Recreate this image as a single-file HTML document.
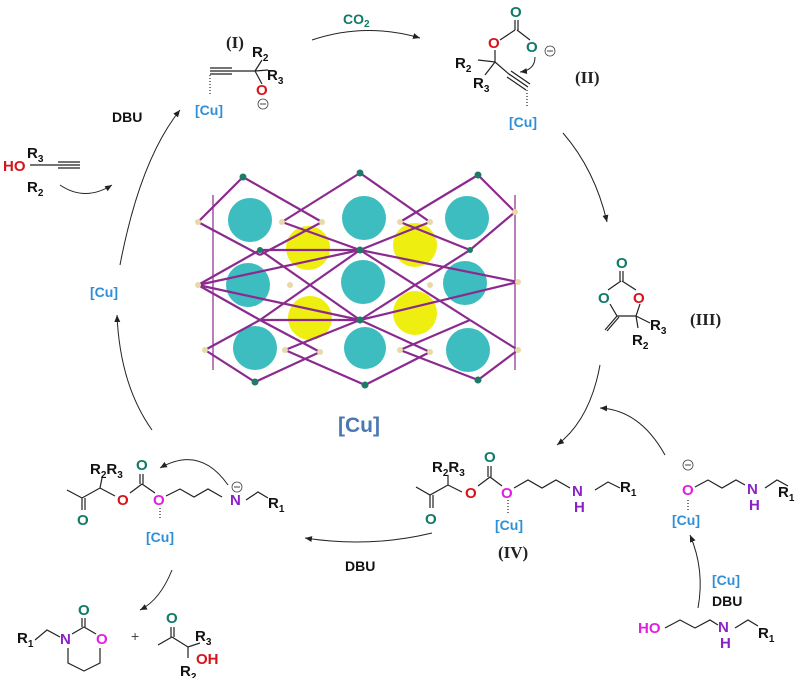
<!DOCTYPE html>
<html><head><meta charset="utf-8"><style>
html,body{margin:0;padding:0;background:#fff;}
svg{display:block;font-family:"Liberation Sans",sans-serif;}
.t{font-size:15px;fill:#111;}
.s{font-size:10px;}
.ser{font-family:"Liberation Serif",serif;font-weight:bold;font-size:17px;fill:#222;}
.cu{fill:#2f8fd6;font-size:14px;font-weight:bold;}
.ot{fill:#0f7a66;font-size:15px;font-weight:bold;}
.or{fill:#d8121b;font-size:15px;font-weight:bold;}
.om{fill:#e01fe0;font-size:15px;font-weight:bold;}
.np{fill:#8a22c8;font-size:15px;font-weight:bold;}
.dbu{font-size:14px;font-weight:bold;fill:#111;}
.b{stroke:#222;stroke-width:1.2;fill:none;}
.a{stroke:#222;stroke-width:1;fill:none;marker-end:url(#ah);}
.m{stroke:#8b2a8e;stroke-width:2.2;}
.neg{fill:none;stroke:#444;stroke-width:0.8;}
</style></head><body>
<svg width="799" height="678" viewBox="0 0 799 678">
<defs><marker id="ah" markerWidth="8" markerHeight="8" refX="7" refY="4" orient="auto" markerUnits="userSpaceOnUse"><path d="M0,1 L7,4 L0,7 Z" fill="#222"/></marker></defs>

<!-- cycle arrows -->
<path class="a" d="M312,40 Q365,22 420,38"/>
<path class="a" d="M563,133 Q595,170 607,222"/>
<path class="a" d="M600,365 Q590,420 557,445"/>
<path class="a" d="M432,533 Q370,548 305,538"/>
<path class="a" d="M152,430 Q120,385 117,315"/>
<path class="a" d="M120,265 Q140,160 180,110"/>
<path class="a" d="M60,185 Q85,202 112,185"/>
<path class="a" d="M665,455 Q640,410 600,408"/>
<path class="a" d="M698,608 Q705,570 690,535"/>
<path class="a" d="M172,570 Q160,600 140,610"/>
<path class="a" d="M228,485 Q200,445 160,468"/>

<text x="343" y="24" style="fill:#0f7a66;font-size:14px;font-weight:bold">CO<tspan class="s" dy="3">2</tspan></text>
<text x="112" y="122" class="dbu">DBU</text>
<text x="345" y="571" class="dbu">DBU</text>
<text x="712" y="606" class="dbu">DBU</text>
<text x="712" y="585" class="cu">[Cu]</text>
<text x="90" y="297" class="cu">[Cu]</text>

<!-- (I) -->
<text x="226" y="48" class="ser">(I)</text>
<text x="252" y="57" class="t" font-weight="bold">R<tspan class="s" dy="4">2</tspan></text>
<text x="267" y="80" class="t" font-weight="bold">R<tspan class="s" dy="4">3</tspan></text>
<path class="b" d="M210,68 L232,68 M210,71 L232,71 M210,74 L232,74 M232,71 L255,71 L268,70 M255,71 L262,60 M255,71 L262,84"/>
<path class="b" d="M210,75 L210,95" stroke-dasharray="1,2"/>
<text x="195" y="115" class="cu">[Cu]</text>
<text x="256" y="95" class="or">O</text>
<circle class="neg" cx="263" cy="104" r="5"/><line x1="260" y1="104" x2="266" y2="104" stroke="#444"/>

<!-- alcohol top-left -->
<text x="27" y="158" class="t" font-weight="bold">R<tspan class="s" dy="4">3</tspan></text>
<text x="3" y="171" class="or">HO</text>
<text x="27" y="192" class="t" font-weight="bold">R<tspan class="s" dy="4">2</tspan></text>
<path class="b" d="M30,165 L58,165 M58,162 L80,162 M58,165 L80,165 M58,168 L80,168"/>

<!-- (II) -->
<text x="510" y="17" class="ot">O</text>
<path class="b" d="M515,20 L515,30 M518,20 L518,30 M515,30 L500,40 M517,30 L530,40"/>
<text x="488" y="48" class="or">O</text>
<text x="526" y="52" class="ot">O</text>
<circle class="neg" cx="550" cy="51" r="5"/><line x1="547" y1="51" x2="553" y2="51" stroke="#444"/>
<path class="a" d="M535,57 Q535,70 520,72"/>
<path class="b" d="M495,50 L495,62 L478,60 M495,62 L485,75 M495,62 L510,75 M507,77 L526,90 M509,74 L528,87 M511,71 L530,84"/>
<path class="b" d="M527,90 L527,108" stroke-dasharray="1,2"/>
<text x="455" y="68" class="t" font-weight="bold">R<tspan class="s" dy="4">2</tspan></text>
<text x="473" y="88" class="t" font-weight="bold">R<tspan class="s" dy="4">3</tspan></text>
<text x="509" y="127" class="cu">[Cu]</text>
<text x="575" y="83" class="ser">(II)</text>

<!-- (III) -->
<text x="616" y="268" class="ot">O</text>
<path class="b" d="M620,271 L620,281 M623,271 L623,281 M621,281 L608,290 M622,281 L636,290 M610,304 L617,316 L636,316 L640,304 M617,316 L605,330 M619,317 L607,331 M636,316 L650,323 M636,316 L638,328"/>
<text x="598" y="303" class="ot">O</text>
<text x="633" y="303" class="or">O</text>
<text x="650" y="330" class="t" font-weight="bold">R<tspan class="s" dy="4">3</tspan></text>
<text x="632" y="345" class="t" font-weight="bold">R<tspan class="s" dy="4">2</tspan></text>
<text x="690" y="325" class="ser">(III)</text>

<!-- (IV) -->
<text x="432" y="472" class="t" font-weight="bold">R<tspan class="s" dy="4">2</tspan><tspan dy="-4">R</tspan><tspan class="s" dy="4">3</tspan></text>
<text x="484" y="462" class="ot">O</text>
<path class="b" d="M488,466 L488,477 M491,466 L491,477 M490,477 L478,486 M490,477 L502,486 M416,487 L430,495 L448,485 L462,492 M430,495 L430,508 M433,495 L433,508 M448,485 L448,475"/>
<text x="425" y="524" class="ot">O</text>
<text x="465" y="498" class="or">O</text>
<text x="501" y="498" class="om">O</text>
<path class="b" d="M514,488 L528,480 L542,488 L556,480 L570,488 M595,490 L608,482 L620,488"/>
<path class="b" d="M508,500 L508,514" stroke-dasharray="1,2"/>
<text x="495" y="530" class="cu">[Cu]</text>
<text x="572" y="496" class="np">N</text>
<text x="574" y="512" class="np">H</text>
<text x="620" y="492" class="t" font-weight="bold">R<tspan class="s" dy="4">1</tspan></text>
<text x="498" y="558" class="ser">(IV)</text>

<!-- right bottom -->
<circle class="neg" cx="688" cy="465" r="5"/><line x1="685" y1="465" x2="691" y2="465" stroke="#444"/>
<text x="682" y="495" class="om">O</text>
<path class="b" d="M695,487 L708,480 L722,488 L736,480 L745,485 M765,488 L777,480 L788,486"/>
<path class="b" d="M688,500 L688,510" stroke-dasharray="1,2"/>
<text x="672" y="525" class="cu">[Cu]</text>
<text x="747" y="494" class="np">N</text>
<text x="749" y="510" class="np">H</text>
<text x="778" y="497" class="t" font-weight="bold">R<tspan class="s" dy="4">1</tspan></text>
<text x="638" y="633" class="om">HO</text>
<path class="b" d="M665,628 L680,620 L695,628 L710,620 L718,625 M735,628 L748,620 L758,626"/>
<text x="718" y="632" class="np">N</text>
<text x="720" y="648" class="np">H</text>
<text x="758" y="638" class="t" font-weight="bold">R<tspan class="s" dy="4">1</tspan></text>

<!-- left bottom -->
<text x="90" y="474" class="t" font-weight="bold">R<tspan class="s" dy="4">2</tspan><tspan dy="-4">R</tspan><tspan class="s" dy="4">3</tspan></text>
<text x="136" y="470" class="ot">O</text>
<path class="b" d="M140,474 L140,484 M143,474 L143,484 M142,484 L130,493 M142,484 L155,493 M67,490 L82,498 L100,488 L115,496 M82,498 L82,510 M85,498 L85,510 M100,488 L102,478"/>
<text x="77" y="525" class="ot">O</text>
<text x="117" y="505" class="or">O</text>
<text x="153" y="505" class="om">O</text>
<path class="b" d="M166,496 L180,489 L194,497 L208,489 L222,497 M246,500 L258,492 L268,498"/>
<path class="b" d="M160,508 L160,520" stroke-dasharray="1,2"/>
<text x="146" y="542" class="cu">[Cu]</text>
<text x="230" y="505" class="np">N</text>
<circle class="neg" cx="237" cy="487" r="5"/><line x1="234" y1="487" x2="240" y2="487" stroke="#444"/>
<text x="268" y="508" class="t" font-weight="bold">R<tspan class="s" dy="4">1</tspan></text>

<!-- products -->
<text x="17" y="643" class="t" font-weight="bold">R<tspan class="s" dy="4">1</tspan></text>
<path class="b" d="M35,640 L47,630 L60,637"/>
<text x="60" y="644" class="np">N</text>
<text x="78" y="615" class="ot">O</text>
<path class="b" d="M82,618 L82,627 M85,618 L85,627 M84,627 L72,634 M84,627 L96,634 M68,648 L68,663 L84,671 L100,663 L100,648"/>
<text x="96" y="644" class="om">O</text>
<text x="131" y="641" style="font-size:14px;fill:#444">+</text>
<text x="166" y="623" class="ot">O</text>
<path class="b" d="M171,627 L171,637 M174,627 L174,637 M172,637 L158,645 M172,637 L188,647 L200,643 M188,647 L188,658"/>
<text x="195" y="641" class="t" font-weight="bold">R<tspan class="s" dy="4">3</tspan></text>
<text x="196" y="664" class="or">OH</text>
<text x="180" y="676" class="t" font-weight="bold">R<tspan class="s" dy="4">2</tspan></text>

<!-- MOF -->
<g>
<circle cx="250" cy="220" r="22" fill="#3dbdbf"/>
<circle cx="364" cy="218" r="22" fill="#3dbdbf"/>
<circle cx="467" cy="218" r="22" fill="#3dbdbf"/>
<circle cx="248" cy="285" r="22" fill="#3dbdbf"/>
<circle cx="363" cy="282" r="22" fill="#3dbdbf"/>
<circle cx="465" cy="283" r="22" fill="#3dbdbf"/>
<circle cx="255" cy="348" r="22" fill="#3dbdbf"/>
<circle cx="365" cy="348" r="21" fill="#3dbdbf"/>
<circle cx="468" cy="350" r="22" fill="#3dbdbf"/>
<circle cx="308" cy="248" r="22" fill="#eeee10"/>
<circle cx="415" cy="245" r="22" fill="#eeee10"/>
<circle cx="310" cy="318" r="22" fill="#eeee10"/>
<circle cx="415" cy="313" r="22" fill="#eeee10"/>
<g class="m">
<line x1="243" y1="177" x2="198" y2="222"/><line x1="243" y1="177" x2="322" y2="222"/>
<line x1="360" y1="173" x2="282" y2="222"/><line x1="360" y1="173" x2="430" y2="222"/>
<line x1="478" y1="175" x2="400" y2="222"/><line x1="478" y1="175" x2="515" y2="212"/>
<line x1="198" y1="222" x2="260" y2="255"/><line x1="322" y1="222" x2="260" y2="255"/>
<line x1="282" y1="222" x2="360" y2="250"/><line x1="430" y1="222" x2="360" y2="250"/>
<line x1="400" y1="222" x2="470" y2="250"/><line x1="515" y1="212" x2="470" y2="250"/>
<line x1="198" y1="285" x2="260" y2="250"/><line x1="198" y1="285" x2="260" y2="320"/>
<line x1="260" y1="250" x2="360" y2="250"/><line x1="260" y1="320" x2="360" y2="320"/>
<line x1="360" y1="250" x2="518" y2="282"/><line x1="360" y1="320" x2="518" y2="282"/>
<line x1="360" y1="250" x2="260" y2="320"/><line x1="360" y1="320" x2="260" y2="250"/>
<line x1="360" y1="250" x2="470" y2="320"/><line x1="360" y1="320" x2="470" y2="250"/>
<line x1="198" y1="285" x2="360" y2="250"/><line x1="198" y1="285" x2="360" y2="320"/>
<line x1="260" y1="320" x2="205" y2="350"/><line x1="260" y1="320" x2="320" y2="352"/>
<line x1="360" y1="320" x2="285" y2="350"/><line x1="360" y1="320" x2="430" y2="352"/>
<line x1="470" y1="320" x2="400" y2="350"/><line x1="470" y1="320" x2="518" y2="350"/>
<line x1="205" y1="350" x2="255" y2="382"/><line x1="320" y1="352" x2="255" y2="382"/>
<line x1="285" y1="350" x2="365" y2="385"/><line x1="430" y1="352" x2="365" y2="385"/>
<line x1="400" y1="350" x2="478" y2="380"/><line x1="518" y1="350" x2="478" y2="380"/>
<line x1="213" y1="195" x2="213" y2="370" stroke-width="1.2"/>
<line x1="515" y1="195" x2="515" y2="370" stroke-width="1.2"/>
</g>
<g fill="#e8d9a8">
<circle cx="198" cy="222" r="3"/><circle cx="322" cy="222" r="3"/><circle cx="282" cy="222" r="3"/><circle cx="430" cy="222" r="3"/><circle cx="400" cy="222" r="3"/><circle cx="515" cy="212" r="3"/>
<circle cx="198" cy="285" r="3"/><circle cx="518" cy="282" r="3"/><circle cx="290" cy="285" r="3"/><circle cx="430" cy="285" r="3"/>
<circle cx="205" cy="350" r="3"/><circle cx="320" cy="352" r="3"/><circle cx="285" cy="350" r="3"/><circle cx="430" cy="352" r="3"/><circle cx="400" cy="350" r="3"/><circle cx="518" cy="350" r="3"/>
</g>
<g fill="#1f7a68">
<circle cx="243" cy="177" r="3.5"/><circle cx="360" cy="173" r="3.5"/><circle cx="478" cy="175" r="3.5"/>
<circle cx="360" cy="250" r="3.5"/><circle cx="360" cy="320" r="3.5"/><circle cx="260" cy="250" r="3"/><circle cx="470" cy="250" r="3"/>
<circle cx="255" cy="382" r="3.5"/><circle cx="365" cy="385" r="3.5"/><circle cx="478" cy="380" r="3.5"/>
</g>
</g>
<text x="338" y="432" style="fill:#4a78b2;font-size:21px;font-weight:bold">[Cu]</text>
</svg>
</body></html>
